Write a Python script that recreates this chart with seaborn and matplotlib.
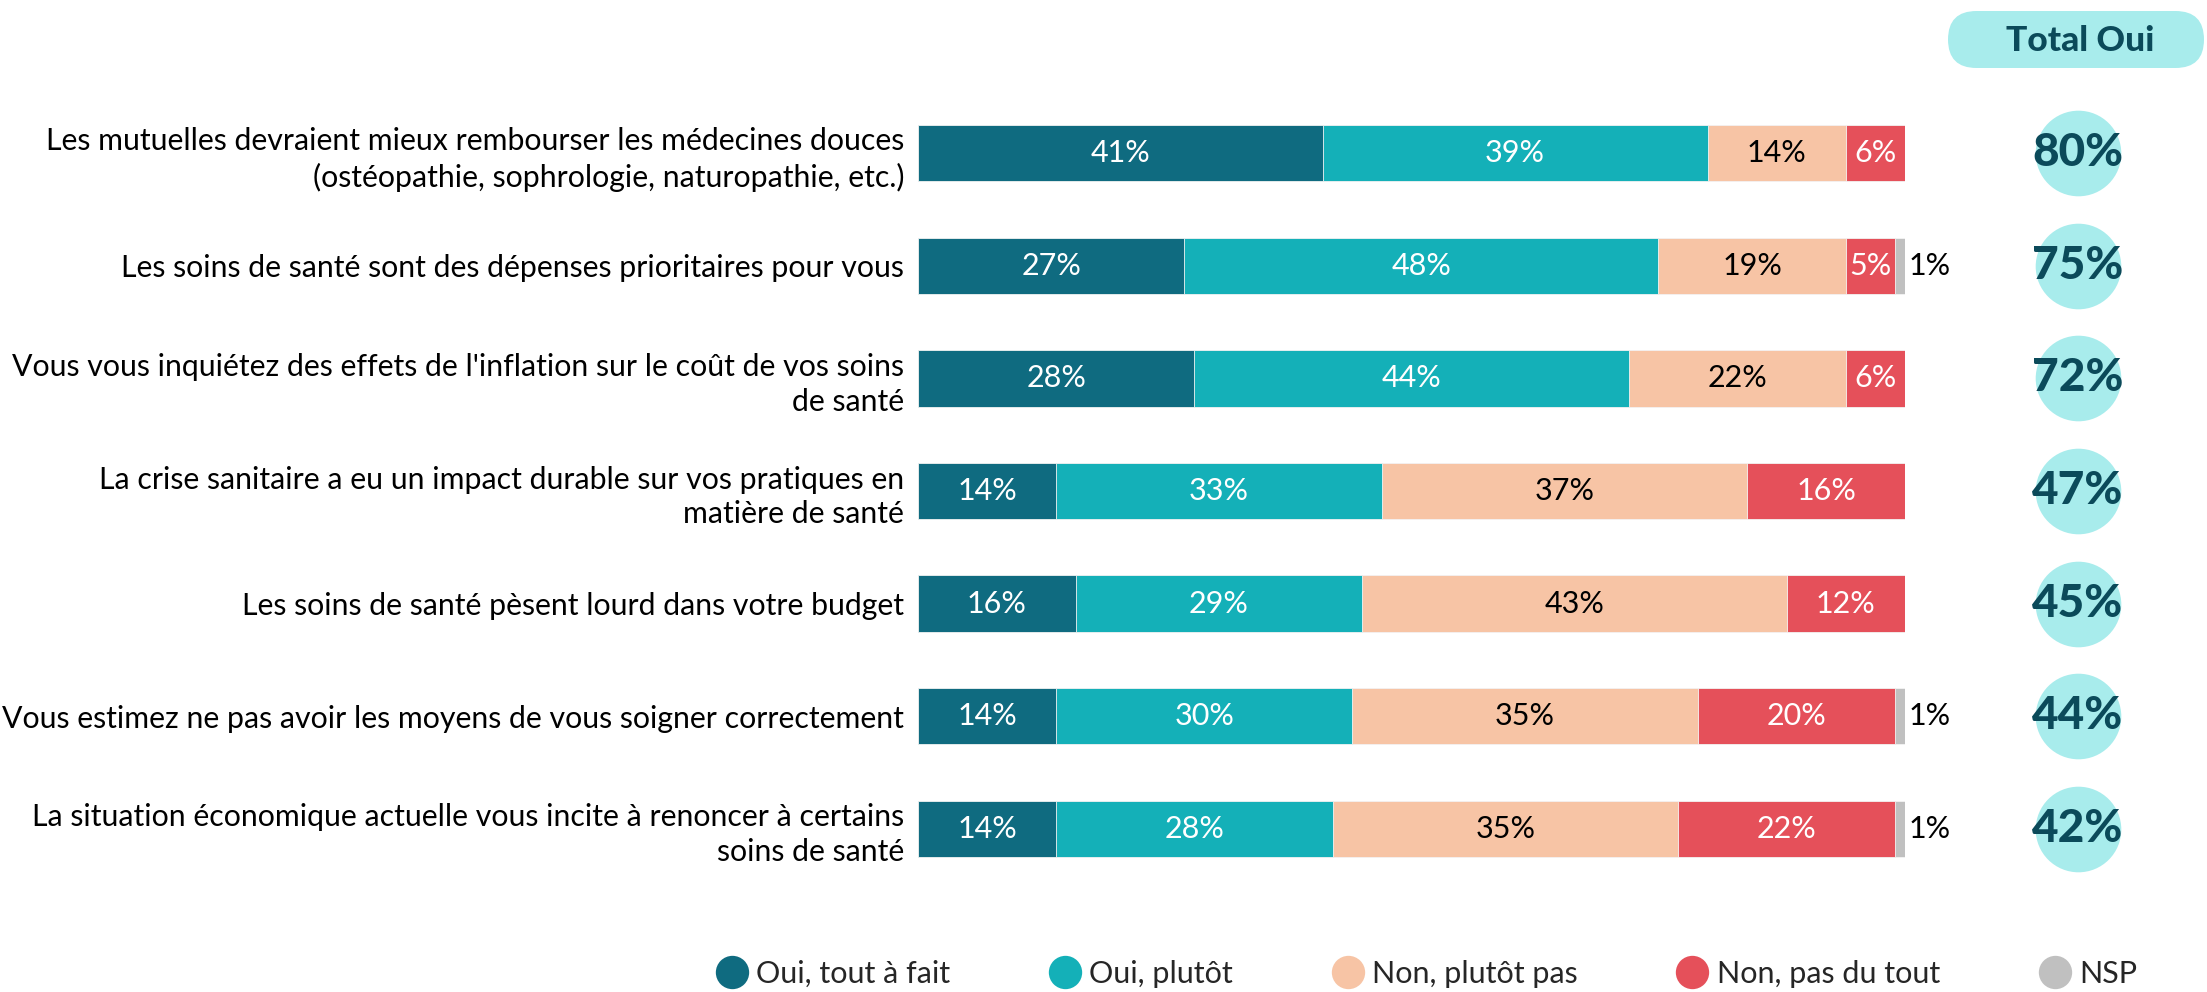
import matplotlib
matplotlib.use("Agg")
import matplotlib.pyplot as plt
from matplotlib.patches import FancyBboxPatch
from matplotlib.lines import Line2D
from matplotlib.transforms import IdentityTransform
import seaborn as sns
import pandas as pd
import numpy as np

statements = [
    "Les mutuelles devraient mieux rembourser les médecines douces\n(ostéopathie, sophrologie, naturopathie, etc.)",
    "Les soins de santé sont des dépenses prioritaires pour vous",
    "Vous vous inquiétez des effets de l'inflation sur le coût de vos soins\nde santé",
    "La crise sanitaire a eu un impact durable sur vos pratiques en\nmatière de santé",
    "Les soins de santé pèsent lourd dans votre budget",
    "Vous estimez ne pas avoir les moyens de vous soigner correctement",
    "La situation économique actuelle vous incite à renoncer à certains\nsoins de santé",
]
categories = ["Oui, tout à fait", "Oui, plutôt", "Non, plutôt pas", "Non, pas du tout", "NSP"]
oui_tout_a_fait = [41, 27, 28, 14, 16, 14, 14]
oui_plutot = [39, 48, 44, 33, 29, 30, 28]
non_plutot_pas = [14, 19, 22, 37, 43, 35, 35]
non_pas_du_tout = [6, 5, 6, 16, 12, 20, 22]
nsp = [0, 1, 0, 0, 0, 1, 1]
total_oui = [80, 75, 72, 47, 45, 44, 42]

colors = ["#0f6b80", "#14b0b8", "#f7c4a5", "#e5505a", "#c0c0c0"]
text_colors = ["white", "white", "black", "white", "black"]
circle_color = "#a8ecec"
dark_text = "#0b4a5a"

FONT = ["Lato", "DejaVu Sans"]
sns.set_theme(style="white")
plt.rcParams["font.family"] = FONT

series = [oui_tout_a_fait, oui_plutot, non_plutot_pas, non_pas_du_tout, nsp]
cum = np.cumsum(np.array(series), axis=0)

W, H = 2207, 992
fig = plt.figure(figsize=(W / 100, H / 100), dpi=100)
ax = fig.add_axes([918 / W, (992 - 885) / H, 987 / W, 788 / H])

# draw cumulative bars from last to first so they stack visually
for i in range(len(categories) - 1, -1, -1):
    df = pd.DataFrame({"statement": statements, "value": cum[i]})
    sns.barplot(data=df, x="value", y="statement", orient="h", color=colors[i],
                width=0.5, saturation=1, ax=ax, edgecolor="#f4f4f4", linewidth=0.6)

ax.set_xlim(0, 100)
ax.set_ylim(6.5, -0.5)
ax.set_xlabel("")
ax.set_ylabel("")
ax.set_xticks([])
ax.set_yticks(range(len(statements)), labels=statements, fontsize=21.8,
              color="black", linespacing=1.3)
for s in ax.spines.values():
    s.set_visible(False)
ax.tick_params(axis="y", length=0, pad=10)

# segment labels
for r in range(len(statements)):
    for i in range(len(categories)):
        v = series[i][r]
        if v == 0:
            continue
        start = cum[i][r] - v
        if i == 4:
            ax.text(cum[i][r] + 0.4, r, f"{v}%", va="center", ha="left",
                    fontsize=22, color="black")
        else:
            ax.text(start + v / 2, r, f"{v}%", va="center", ha="center",
                    fontsize=22, color=text_colors[i])

# Total Oui column
ax2 = fig.add_axes([1948 / W, (992 - 885) / H, 259 / W, 788 / H], sharey=ax)
ax2.set_xlim(0, 1)
ax2.axis("off")
ax2.scatter([0.5] * len(total_oui), range(len(total_oui)), s=3800,
            color=circle_color, linewidths=0, clip_on=False)
for r, v in enumerate(total_oui):
    ax2.text(0.5, r, f"{v}%", ha="center", va="center", fontsize=33,
             fontweight="black", color=dark_text)

# header pill (pixel coordinates)
pill = FancyBboxPatch((1948, 992 - 68), 256, 57,
                      boxstyle="round,pad=0,rounding_size=28.5",
                      transform=IdentityTransform(), facecolor=circle_color,
                      edgecolor="none")
fig.patches.append(pill)
fig.text(2080 / W, 1 - 41 / H, "Total Oui", ha="center", va="center",
         fontsize=25.5, fontweight="black", color=dark_text)

# legend
handles = [Line2D([0], [0], marker="o", linestyle="", markersize=24,
                  markerfacecolor=c, markeredgecolor="none") for c in colors]
fig.legend(handles, categories, loc="center", bbox_to_anchor=(1426 / W, 1 - 974 / H),
           ncol=5, frameon=False, fontsize=22, columnspacing=3.2,
           handletextpad=0.25, handlelength=1.1)

fig.savefig("out.png", dpi=100)
